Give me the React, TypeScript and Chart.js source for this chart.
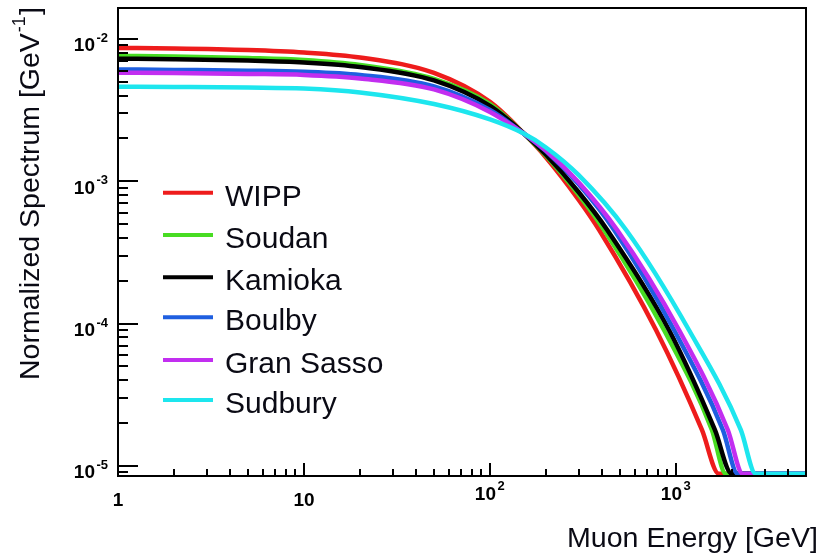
import React, { useEffect, useRef } from 'react';
import { Chart, registerables } from 'chart.js';

Chart.register(...registerables);

const FONT = '"Liberation Sans", Arial, Helvetica, sans-serif';
const TEXT_COLOR = '#0a0a14';

// ---- data ----
const seriesNames = ['WIPP', 'Soudan', 'Kamioka', 'Boulby', 'Gran Sasso', 'Sudbury'];
const seriesColors = ['#ee1c1c', '#48dc22', '#000000', '#1f5fe0', '#c22ef0', '#1de6ee'];

const wippEnergy = [1, 2, 5, 10, 20, 50, 100, 150, 200, 300, 386.5, 781, 1379, 1701, 5000];
const wippSpectrum = [0.00865, 0.00858, 0.00837, 0.00804, 0.00741, 0.00577, 0.00361, 0.00221, 0.00147, 7.41e-4, 4.55e-4, 9.02e-5, 1.79e-5, 8.8e-6, 8.8e-6];

const soudanEnergy = [1, 2, 5, 10, 20, 50, 100, 150, 200, 300, 411, 862, 1560, 1854, 5000];
const soudanSpectrum = [0.0076, 0.00753, 0.00735, 0.00712, 0.00657, 0.00524, 0.00349, 0.0022, 0.001513, 8.04e-4, 4.55e-4, 9.02e-5, 1.79e-5, 8.8e-6, 8.8e-6];

const kamiokaEnergy = [1, 2, 5, 10, 20, 50, 100, 150, 200, 300, 427, 917, 1619, 1997, 5000];
const kamiokaSpectrum = [0.00727, 0.00721, 0.00706, 0.00684, 0.00636, 0.00511, 0.00338, 0.0022, 0.001535, 8.38e-4, 4.55e-4, 9.02e-5, 1.79e-5, 8.8e-6, 8.8e-6];

const boulbyEnergy = [1, 2, 5, 10, 20, 50, 100, 150, 200, 300, 465, 976, 1787, 2150, 5000];
const boulbySpectrum = [0.00611, 0.00606, 0.00599, 0.00589, 0.00559, 0.00464, 0.00317, 0.00219, 0.00163, 9.51e-4, 4.55e-4, 9.02e-5, 1.79e-5, 8.8e-6, 8.8e-6];

const granSassoEnergy = [1, 2, 5, 10, 20, 50, 100, 150, 200, 300, 483, 1038, 1900, 2287, 5000];
const granSassoSpectrum = [0.0058, 0.00577, 0.00568, 0.00559, 0.00528, 0.00442, 0.00307, 0.00219, 0.001646, 9.82e-4, 4.55e-4, 9.02e-5, 1.79e-5, 8.8e-6, 8.8e-6];

const sudburyEnergy = [1, 2, 5, 10, 20, 50, 100, 150, 200, 300, 539.5, 1174, 2231, 2685, 5000];
const sudburySpectrum = [0.00462, 0.0046, 0.00456, 0.00449, 0.00421, 0.00349, 0.00272, 0.00218, 0.001728, 0.001104, 4.55e-4, 9.02e-5, 1.79e-5, 8.8e-6, 8.8e-6];

const seriesEnergy = [wippEnergy, soudanEnergy, kamiokaEnergy, boulbyEnergy, granSassoEnergy, sudburyEnergy];
const seriesSpectrum = [wippSpectrum, soudanSpectrum, kamiokaSpectrum, boulbySpectrum, granSassoSpectrum, sudburySpectrum];

const X_MIN = 1;
const X_MAX = 5000;
const Y_MIN = 8.5e-6;
const Y_MAX = 0.0165;

const yMajorValues = [1e-2, 1e-3, 1e-4, 1e-5];
const yMajorSup = ['-2', '-3', '-4', '-5'];
const xMajorValues = [1, 10, 100, 1000];
const xMajorBase = ['1', '10', '10', '10'];
const xMajorSup = ['', '', '2', '3'];

const xTitle = 'Muon Energy [GeV]';
const yTitleMain = 'Normalized Spectrum [GeV';
const yTitleSup = '-1';
const yTitleEnd = ']';

const decorPlugin = {
  id: 'decor',
  afterDatasetsDraw(chart: any) {
    const { ctx, chartArea: a, scales } = chart;
    const xs = scales.x;
    const ys = scales.y;
    ctx.save();

    // frame
    ctx.strokeStyle = '#000';
    ctx.lineWidth = 2;
    ctx.strokeRect(a.left, a.top, a.right - a.left, a.bottom - a.top);

    // y ticks (inward from the left axis)
    ctx.beginPath();
    for (let d = -7; d <= -1; d++) {
      for (let m = 1; m <= 9; m++) {
        const v = m * Math.pow(10, d);
        if (v < Y_MIN || v > Y_MAX) continue;
        const py = Math.round(ys.getPixelForValue(v));
        const len = m === 1 ? 20 : 10;
        ctx.moveTo(a.left, py);
        ctx.lineTo(a.left + len, py);
      }
    }
    // x ticks (inward from the bottom axis)
    for (let d = 0; d <= 3; d++) {
      for (let m = 1; m <= 9; m++) {
        const v = m * Math.pow(10, d);
        if (v <= X_MIN || v >= X_MAX) continue;
        const px = Math.round(xs.getPixelForValue(v));
        const len = m === 1 ? 13 : 7;
        ctx.moveTo(px, a.bottom);
        ctx.lineTo(px, a.bottom - len);
      }
    }
    ctx.stroke();

    ctx.fillStyle = '#000';
    ctx.textBaseline = 'alphabetic';
    // y tick labels
    yMajorValues.forEach((v, i) => {
      const py = ys.getPixelForValue(v);
      ctx.font = `bold 19px ${FONT}`;
      ctx.textAlign = 'right';
      ctx.fillText('10', 95, py + 12.5);
      ctx.font = `bold 13px ${FONT}`;
      ctx.textAlign = 'left';
      ctx.fillText(yMajorSup[i], 96.5, py + 3);
    });
    // x tick labels
    xMajorValues.forEach((v, i) => {
      const px = xs.getPixelForValue(v);
      if (!xMajorSup[i]) {
        ctx.font = `bold 19px ${FONT}`;
        ctx.textAlign = 'center';
        ctx.fillText(xMajorBase[i], px, 505.5);
      } else {
        ctx.font = `bold 19px ${FONT}`;
        ctx.textAlign = 'right';
        ctx.fillText(xMajorBase[i], px + 6, 500);
        ctx.font = `bold 13px ${FONT}`;
        ctx.textAlign = 'left';
        ctx.fillText(xMajorSup[i], px + 7.5, 490);
      }
    });

    // x axis title
    ctx.fillStyle = TEXT_COLOR;
    ctx.font = `27px ${FONT}`;
    ctx.textAlign = 'left';
    const xw = ctx.measureText(xTitle).width;
    ctx.save();
    ctx.translate(567, 546.5);
    ctx.scale(251 / xw, 1);
    ctx.fillText(xTitle, 0, 0);
    ctx.restore();

    // y axis title
    ctx.save();
    ctx.translate(38.5, 380);
    ctx.rotate(-Math.PI / 2);
    ctx.font = `28.5px ${FONT}`;
    ctx.textAlign = 'left';
    ctx.fillText(yTitleMain, 0, 0);
    const mw = ctx.measureText(yTitleMain).width;
    ctx.font = `18px ${FONT}`;
    ctx.fillText(yTitleSup, mw + 1, -14);
    const sw = ctx.measureText(yTitleSup).width;
    ctx.font = `28.5px ${FONT}`;
    ctx.fillText(yTitleEnd, mw + sw + 2, 0);
    ctx.restore();

    // legend
    const legendY = [192.7, 235, 277.3, 317.3, 360, 400];
    seriesNames.forEach((name, i) => {
      ctx.strokeStyle = seriesColors[i];
      ctx.lineWidth = 4;
      ctx.beginPath();
      ctx.moveTo(163, legendY[i]);
      ctx.lineTo(213, legendY[i]);
      ctx.stroke();
      ctx.fillStyle = TEXT_COLOR;
      ctx.font = `30px ${FONT}`;
      ctx.textAlign = 'left';
      ctx.fillText(name, 225, legendY[i] + 13);
    });

    ctx.restore();
  },
};

export default function App() {
  const canvasRef = useRef<HTMLCanvasElement | null>(null);

  useEffect(() => {
    const canvas = canvasRef.current;
    if (!canvas) return;
    const datasets = seriesNames.map((name, i) => ({
      label: name,
      data: seriesEnergy[i].map((e, j) => ({ x: e, y: seriesSpectrum[i][j] })),
      borderColor: seriesColors[i],
      backgroundColor: seriesColors[i],
      borderWidth: 4.5,
      pointRadius: 0,
      fill: false,
      cubicInterpolationMode: 'monotone' as const,
      order: seriesNames.length - i,
    }));
    const chart = new Chart(canvas, {
      type: 'line',
      data: { datasets },
      options: {
        responsive: false,
        animation: false,
        events: [],
        layout: { padding: { left: 118, top: 8, right: 16, bottom: 82 } },
        scales: {
          x: { type: 'logarithmic', min: X_MIN, max: X_MAX, display: false },
          y: { type: 'logarithmic', min: Y_MIN, max: Y_MAX, display: false },
        },
        plugins: {
          legend: { display: false },
          tooltip: { enabled: false },
        },
      },
      plugins: [decorPlugin],
    });
    return () => chart.destroy();
  }, []);

  return (
    <div style={{ position: 'absolute', left: 0, top: 0, width: 822, height: 558, background: '#fff' }}>
      <canvas ref={canvasRef} width={822} height={558} />
    </div>
  );
}
